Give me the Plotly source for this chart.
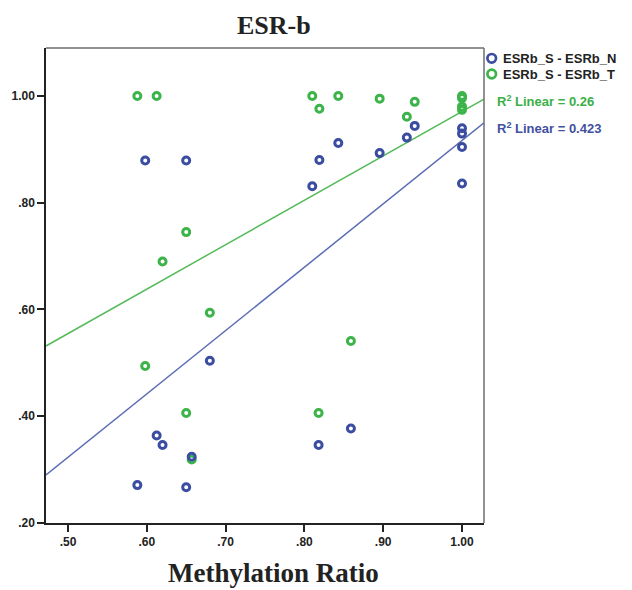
import numpy as np
import plotly.graph_objects as go

# ---- data -------------------------------------------------------------
methylation_ratio = [0.588, 0.598, 0.6125, 0.620, 0.650, 0.650, 0.657, 0.680,
                     0.810, 0.818, 0.819, 0.843, 0.859, 0.8955, 0.930, 0.940,
                     1.000, 1.000, 1.000, 1.000]
esrb_s_minus_n = [0.271, 0.879, 0.364, 0.346, 0.879, 0.267, 0.324, 0.504,
                  0.831, 0.346, 0.880, 0.912, 0.377, 0.893, 0.922, 0.944,
                  0.9395, 0.9295, 0.9045, 0.836]
esrb_s_minus_t = [1.000, 0.494, 1.000, 0.690, 0.745, 0.406, 0.319, 0.594,
                  1.000, 0.406, 0.976, 1.000, 0.541, 0.995, 0.961, 0.989,
                  1.000, 0.996, 0.980, 0.974]

series_names = ["ESRb_S - ESRb_N", "ESRb_S - ESRb_T"]
r2_labels = ["R<sup>2</sup> Linear = 0.423", "R<sup>2</sup> Linear = 0.26"]

x_tick_vals = [0.5, 0.6, 0.7, 0.8, 0.9, 1.0]
x_tick_text = [".50", ".60", ".70", ".80", ".90", "1.00"]
y_tick_vals = [0.2, 0.4, 0.6, 0.8, 1.0]
y_tick_text = [".20", ".40", ".60", ".80", "1.00"]

# ---- style ------------------------------------------------------------
BLUE = "#3b4da0"
GREEN = "#3cb44a"
BLUE_LINE = "#5a6cb4"
GREEN_LINE = "#55bb5a"
BLUE_TEXT = "#3f519f"
GREEN_TEXT = "#3aaf45"
SANS = "Liberation Sans, Arial, sans-serif"
SERIF = "Liberation Serif, Times New Roman, serif"

X_RANGE = [0.4721, 1.0279]
Y_RANGE = [0.2, 1.0899]

W, H = 632, 590
M = dict(l=46, r=148, t=48, b=67)
PW = W - M["l"] - M["r"]
PH = H - M["t"] - M["b"]


def px_to_paper(px, py):
    return (px - M["l"]) / PW, (H - M["b"] - py) / PH


fig = go.Figure()

x = np.asarray(methylation_ratio)
fit_x = np.array(X_RANGE)

# linear fit lines (least squares), drawn across the full x range
for yvals, col in ((esrb_s_minus_t, GREEN_LINE), (esrb_s_minus_n, BLUE_LINE)):
    slope, intercept = np.polyfit(x, np.asarray(yvals), 1)
    fig.add_trace(go.Scatter(
        x=fit_x, y=slope * fit_x + intercept, mode="lines",
        line=dict(color=col, width=1.5), showlegend=False, hoverinfo="skip"))

# scatter points (T first so N sits on top)
for yvals, col, name in ((esrb_s_minus_t, GREEN, series_names[1]),
                         (esrb_s_minus_n, BLUE, series_names[0])):
    fig.add_trace(go.Scatter(
        x=methylation_ratio, y=yvals, mode="markers", name=name,
        marker=dict(symbol="circle-open", size=7, color=col,
                    line=dict(width=3, color=col)),
        showlegend=False))

shapes = []
annotations = []

# top / right frame in gray
shapes.append(dict(type="line", xref="paper", yref="paper", x0=0, x1=1, y0=1, y1=1,
                   line=dict(color="#6e6e6e", width=1.5)))
shapes.append(dict(type="line", xref="paper", yref="paper", x0=1, x1=1, y0=0, y1=1,
                   line=dict(color="#6e6e6e", width=1.5)))

# legend entries
for (cy, col, name) in ((58.3, BLUE, series_names[0]), (74.0, GREEN, series_names[1])):
    ax, ay = px_to_paper(491.7, cy)
    shapes.append(dict(type="circle", xref="paper", yref="paper",
                       xsizemode="pixel", ysizemode="pixel",
                       xanchor=ax, yanchor=ay, x0=-4.3, x1=4.3, y0=-4.3, y1=4.3,
                       line=dict(color=col, width=2.7)))
    tx, ty = px_to_paper(501, cy)
    annotations.append(dict(xref="paper", yref="paper", x=tx, y=ty, text=name,
                            xanchor="left", yanchor="middle", showarrow=False,
                            font=dict(family=SANS, size=13, color="#222222",
                                      weight="bold")))

# R² labels
for (cy, col, txt) in ((101.0, GREEN_TEXT, r2_labels[1]), (128.3, BLUE_TEXT, r2_labels[0])):
    tx, ty = px_to_paper(494.5, cy)
    annotations.append(dict(xref="paper", yref="paper", x=tx, y=ty, text=txt,
                            xanchor="left", yanchor="middle", showarrow=False,
                            font=dict(family=SANS, size=13, color=col, weight="bold")))

# chart title and x-axis title
tx, ty = px_to_paper(274, 25)
annotations.append(dict(xref="paper", yref="paper", x=tx, y=ty, text="ESR-b",
                        xanchor="center", yanchor="middle", showarrow=False,
                        font=dict(family=SERIF, size=26, color="#222222", weight="bold")))
tx, ty = px_to_paper(273, 573)
annotations.append(dict(xref="paper", yref="paper", x=tx, y=ty, text="Methylation Ratio",
                        xanchor="center", yanchor="middle", showarrow=False,
                        font=dict(family=SERIF, size=27, color="#222222", weight="bold")))

tickfont = dict(family=SANS, size=12, color="#222222", weight="bold")

fig.update_layout(
    width=W, height=H, margin=M,
    paper_bgcolor="white", plot_bgcolor="white",
    showlegend=False,
    shapes=shapes, annotations=annotations,
    xaxis=dict(range=X_RANGE, tickvals=x_tick_vals, ticktext=x_tick_text,
               showgrid=False, zeroline=False, showline=True,
               linecolor="#222222", linewidth=1.5,
               ticks="outside", ticklen=7, tickwidth=1.5, tickcolor="#222222",
               tickfont=tickfont),
    yaxis=dict(range=Y_RANGE, tickvals=y_tick_vals, ticktext=y_tick_text,
               showgrid=False, zeroline=False, showline=True,
               linecolor="#222222", linewidth=1.5,
               ticks="outside", ticklen=7, tickwidth=1.5, tickcolor="#222222",
               tickfont=tickfont),
)

fig.write_html("out.html")
